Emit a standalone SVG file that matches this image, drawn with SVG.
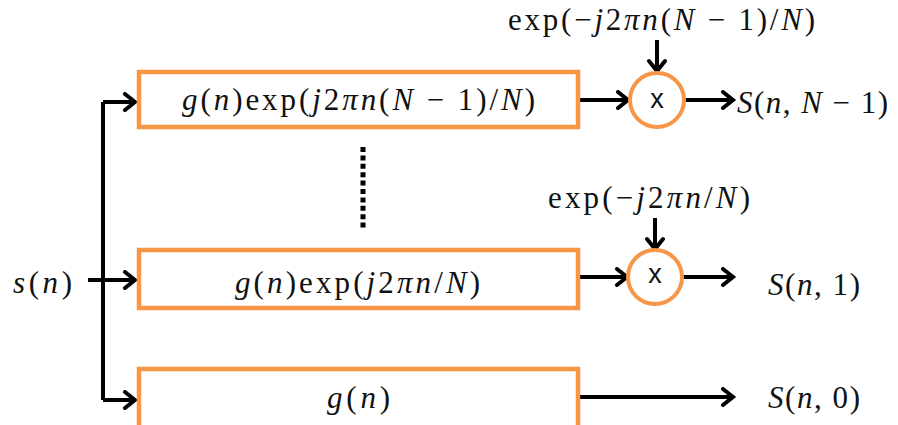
<svg xmlns="http://www.w3.org/2000/svg" width="898" height="425" viewBox="0 0 898 425">
<defs>
<marker id="ah" markerWidth="20" markerHeight="20" refX="13" refY="10" orient="auto" markerUnits="userSpaceOnUse">
<path d="M3,2 L13,10 L3,18" fill="none" stroke="#000" stroke-width="4" stroke-linecap="round" stroke-linejoin="miter"/>
</marker>
</defs>
<style>
.box{fill:#fff;stroke:#F79646;stroke-width:4.5}
.circ{fill:#fff;stroke:#F79646;stroke-width:4}
.wire{fill:none;stroke:#000;stroke-width:4}
.t{font-family:"Liberation Serif","DejaVu Serif",serif;font-size:31px;fill:#111}
.i{font-style:italic}
.x{font-family:"Liberation Sans",Arial,sans-serif;font-size:27px;fill:#111}
</style>
<rect width="898" height="425" fill="#fff"/>
<g id="connectors">
<path class="wire" d="M103,102 V400"/>
<path class="wire" d="M103,102 H135" marker-end="url(#ah)"/>
<path class="wire" d="M88,280 H135" marker-end="url(#ah)"/>
<path class="wire" d="M103,400 H135" marker-end="url(#ah)"/>
<path class="wire" d="M580,100 H628" marker-end="url(#ah)"/>
<path class="wire" d="M685,100 H733" marker-end="url(#ah)"/>
<path class="wire" d="M657,40 V71" marker-end="url(#ah)"/>
<path class="wire" d="M580,277 H627" marker-end="url(#ah)"/>
<path class="wire" d="M683,277 H733" marker-end="url(#ah)"/>
<path class="wire" d="M655,218 V249" marker-end="url(#ah)"/>
<path class="wire" d="M580,397 H733" marker-end="url(#ah)"/>
<path d="M363,147 V230" stroke="#000" stroke-width="5" stroke-dasharray="5,3.4"/>
</g>
<g id="input"><text class="t" x="13" y="293" textLength="59" lengthAdjust="spacing"><tspan class="i">s</tspan>(<tspan class="i">n</tspan>)</text></g>
<g id="box-top">
<rect class="box" x="139" y="72" width="439" height="55"/>
<text class="t" x="182" y="110" textLength="353" lengthAdjust="spacing"><tspan class="i">g</tspan>(<tspan class="i">n</tspan>)exp(<tspan class="i">j</tspan>2<tspan class="i">πn</tspan>(<tspan class="i">N</tspan> − 1)/<tspan class="i">N</tspan>)</text>
</g>
<g id="box-mid">
<rect class="box" x="139" y="250" width="439" height="58"/>
<text class="t" x="235" y="293" textLength="245" lengthAdjust="spacing"><tspan class="i">g</tspan>(<tspan class="i">n</tspan>)exp(<tspan class="i">j</tspan>2<tspan class="i">πn</tspan>/<tspan class="i">N</tspan>)</text>
</g>
<g id="box-bot">
<rect class="box" x="139" y="369" width="439" height="60"/>
<text class="t" x="327" y="408" textLength="63" lengthAdjust="spacing"><tspan class="i">g</tspan>(<tspan class="i">n</tspan>)</text>
</g>
<g id="mult-top">
<circle class="circ" cx="657" cy="100" r="27"/>
<text class="x" x="657" y="108" text-anchor="middle">x</text>
</g>
<g id="mult-mid">
<circle class="circ" cx="655" cy="277" r="27"/>
<text class="x" x="655" y="283" text-anchor="middle">x</text>
</g>
<g id="labels">
<text class="t" x="508" y="30" textLength="307" lengthAdjust="spacing">exp(−<tspan class="i">j</tspan>2<tspan class="i">πn</tspan>(<tspan class="i">N</tspan> − 1)/<tspan class="i">N</tspan>)</text>
<text class="t" x="548" y="208" textLength="202" lengthAdjust="spacing">exp(−<tspan class="i">j</tspan>2<tspan class="i">πn</tspan>/<tspan class="i">N</tspan>)</text>
<text class="t" x="737" y="113" textLength="151" lengthAdjust="spacing"><tspan class="i">S</tspan>(<tspan class="i">n</tspan>, <tspan class="i">N</tspan> − 1)</text>
<text class="t" x="768" y="295" textLength="92" lengthAdjust="spacing"><tspan class="i">S</tspan>(<tspan class="i">n</tspan>, 1)</text>
<text class="t" x="768" y="408" textLength="92" lengthAdjust="spacing"><tspan class="i">S</tspan>(<tspan class="i">n</tspan>, 0)</text>
</g>
</svg>
